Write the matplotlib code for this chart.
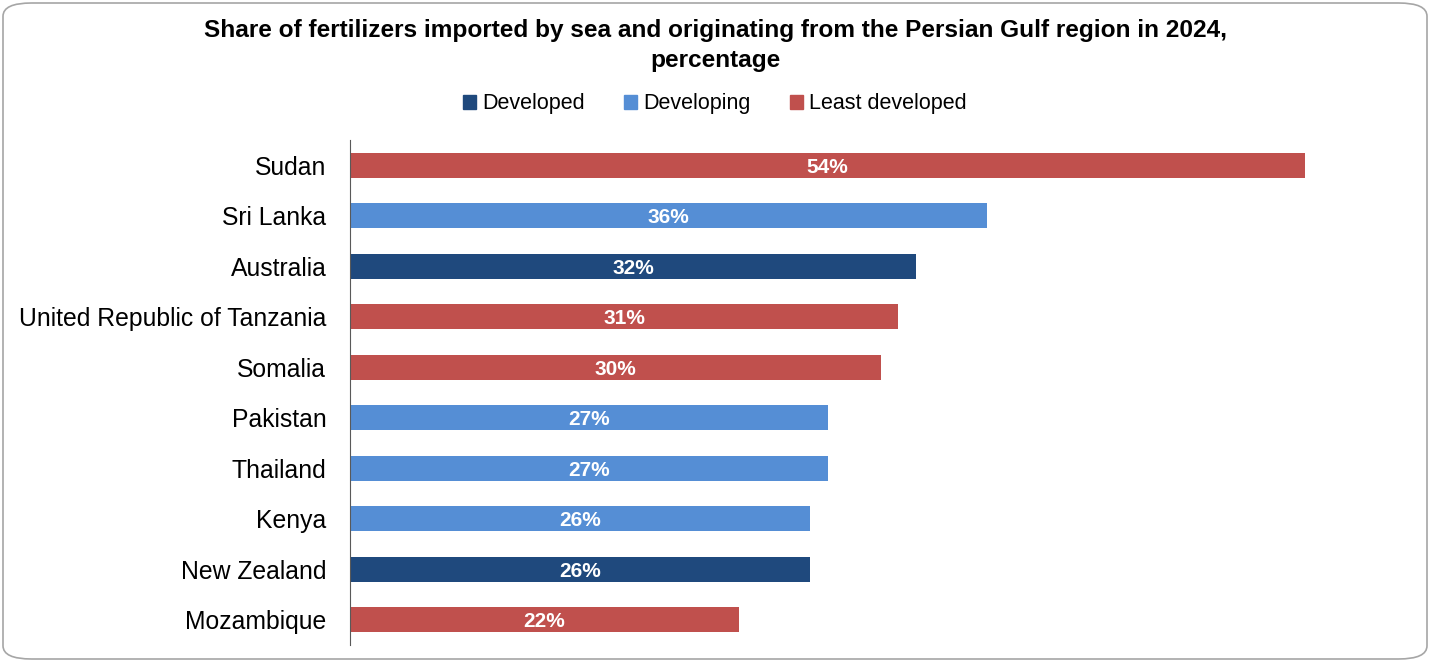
import matplotlib.pyplot as plt
from matplotlib.patches import FancyBboxPatch, Patch

plt.rcParams['font.family'] = ['Liberation Sans', 'DejaVu Sans']

countries = ['Sudan', 'Sri Lanka', 'Australia', 'United Republic of Tanzania', 'Somalia',
             'Pakistan', 'Thailand', 'Kenya', 'New Zealand', 'Mozambique']
shares = [54, 36, 32, 31, 30, 27, 27, 26, 26, 22]
groups = ['Least developed', 'Developing', 'Developed', 'Least developed', 'Least developed',
          'Developing', 'Developing', 'Developing', 'Developed', 'Least developed']
group_names = ['Developed', 'Developing', 'Least developed']
group_colors = {'Developed': '#1F497D', 'Developing': '#558ED5', 'Least developed': '#C0504D'}

fig = plt.figure(figsize=(14.3, 6.62), dpi=100)
ax = fig.add_axes([350 / 1430, 1 - 645 / 662, 980 / 1430, 505 / 662])

y = range(len(countries))
cols = [group_colors[g] for g in groups]
bars = ax.barh(y, shares, height=0.5, color=cols)
for b, v in zip(bars, shares):
    ax.text(b.get_width() / 2, b.get_y() + b.get_height() / 2, f'{v}%',
            ha='center', va='center_baseline', color='white', fontsize=15, fontweight='bold')

ax.set_xlim(0, 980 / 17.69)
ax.set_ylim(len(countries) - 0.5, -0.5)
ax.set_yticks(list(y))
ax.set_yticklabels(countries, fontsize=17.8)
ax.tick_params(axis='y', length=0, pad=17)
ax.set_xticks([])
for s in ['top', 'right', 'bottom']:
    ax.spines[s].set_visible(False)
ax.spines['left'].set_color('#595959')

fig.text(0.5, 1 - 31 / 662, 'Share of fertilizers imported by sea and originating from the Persian Gulf region in 2024,',
         ha='center', va='center', fontsize=17.6, fontweight='bold')
fig.text(0.5, 1 - 61 / 662, 'percentage', ha='center', va='center', fontsize=17.6, fontweight='bold')

handles = [Patch(color=group_colors[g]) for g in group_names]
fig.legend(handles, group_names, loc='center', bbox_to_anchor=(0.5, 1 - 104 / 662), ncol=3,
           frameon=False, fontsize=15.5, handlelength=0.6, handleheight=0.6, handletextpad=0.3,
           columnspacing=1.8)

border = FancyBboxPatch((3 / 1430, 3 / 662), 1 - 6 / 1430, 1 - 6 / 662,
                        boxstyle='round,pad=0,rounding_size=0.02', transform=fig.transFigure,
                        facecolor='none', edgecolor='#A6A6A6', linewidth=1.2)
fig.patches.append(border)

fig.savefig('out.png', dpi=100)
